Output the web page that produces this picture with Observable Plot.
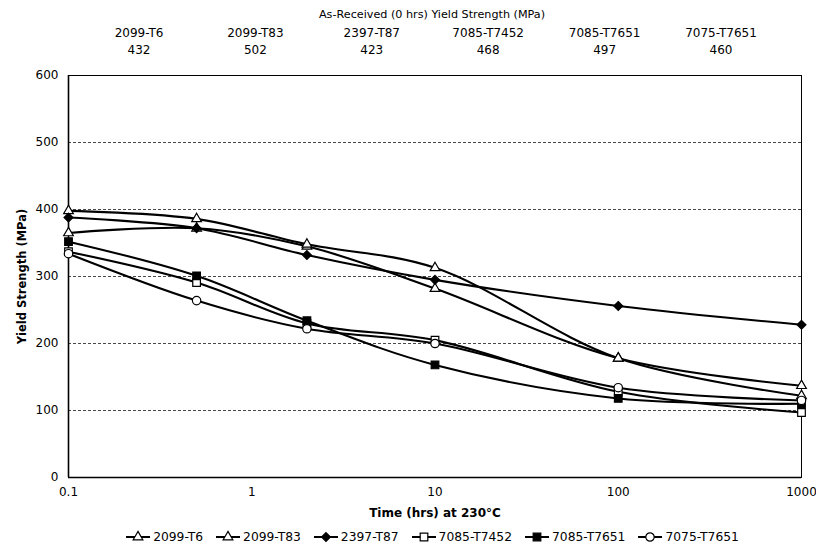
<!DOCTYPE html>
<html><head><meta charset="utf-8">
<script src="https://cdn.jsdelivr.net/npm/d3@7"></script>
<script src="https://cdn.jsdelivr.net/npm/@observablehq/plot@0.6"></script>
<style>
body{margin:0;background:#fff;font-family:"DejaVu Sans",Verdana,sans-serif;color:#000}
#wrap{width:816px;height:550px;position:relative;overflow:hidden;background:#fff}
#head{position:relative;height:62px}
.h{position:absolute;transform:translate(-50%,-50%);white-space:nowrap;font-size:12px;line-height:14px}
#legend{height:26px;display:flex;justify-content:center;align-items:center;font-size:12.3px;padding-left:48px}
.li{display:flex;align-items:center;margin:0 6px;white-space:nowrap}
.li svg{margin-right:2px}
</style></head>
<body><div id="wrap"><div id="head"></div><div id="chart"></div><div id="legend"></div></div>
<script>
// ---- data ----
const hours = [0.1, 0.5, 2, 10, 100, 1000];
const alloys = ["2099-T6", "2099-T83", "2397-T87", "7085-T7452", "7085-T7651", "7075-T7651"];
const asReceived = [432, 502, 423, 468, 497, 460];
const ys2099T6   = [365, 372, 345, 282, 178, 137];
const ys2099T83  = [398, 386, 348, 313, 178, 122];
const ys2397T87  = [388, 372, 332, 295, 256, 228];
const ys7085T7452 = [337, 291, 230, 205, 128, 97];
const ys7085T7651 = [352, 301, 234, 168, 118, 110];
const ys7075T7651 = [334, 264, 222, 200, 134, 115];
const xTicks = [0.1, 1, 10, 100, 1000];
const yTicks = [0, 100, 200, 300, 400, 500, 600];
const gridLevels = [100, 200, 300, 400, 500];
const headerTitle = "As-Received (0 hrs) Yield Strength (MPa)";
const xTitle = "Time (hrs) at 230°C";
const yTitle = "Yield Strength (MPa)";

const seriesValues = [ys2099T6, ys2099T83, ys2397T87, ys7085T7452, ys7085T7651, ys7075T7651];
const markerStyle = [
  {symbol: "triangle", fill: "#fff", r: 3.6},
  {symbol: "triangle", fill: "#fff", r: 3.6},
  {symbol: "diamond2", fill: "#000", r: 4},
  {symbol: "square", fill: "#fff", r: 4.3},
  {symbol: "square", fill: "#000", r: 4.3},
  {symbol: "circle", fill: "#fff", r: 4.2}
];

const rows = [];
alloys.forEach((a, i) => hours.forEach((h, j) => rows.push({alloy: a, h, v: seriesValues[i][j]})));

// ---- header ----
const head = document.getElementById("head");
function addH(txt, x, y, size) {
  const s = document.createElement("span");
  s.className = "h"; s.textContent = txt;
  s.style.left = x + "px"; s.style.top = y + "px";
  if (size) s.style.fontSize = size;
  head.appendChild(s);
}
addH(headerTitle, 432, 15, "11.2px");
alloys.forEach((a, i) => {
  const cx = 139 + i * 116.4;
  addH(a, cx, 33);
  addH(String(asReceived[i]), cx, 50);
});

// ---- chart ----
const marks = [
  Plot.ruleY(gridLevels, {stroke: "#333", strokeDasharray: "3,2", strokeWidth: 0.9}),
  Plot.frame({stroke: "#000", strokeWidth: 1}),
  Plot.ruleX([0.1], {stroke: "#000", strokeWidth: 1.6}),
  Plot.ruleY([0], {stroke: "#000", strokeWidth: 1.6}),
  Plot.line(rows, {x: "h", y: "v", z: "alloy", curve: "catmull-rom", stroke: "#000", strokeWidth: 2.1})
];
alloys.forEach((a, i) => {
  const m = markerStyle[i];
  marks.push(Plot.dot(rows.filter(d => d.alloy === a), {
    x: "h", y: "v", symbol: m.symbol, fill: m.fill, stroke: "#000", strokeWidth: 1.2, r: m.r
  }));
});
marks.push(
  Plot.axisX({ticks: xTicks, tickFormat: d => String(d), tickSize: 0, tickPadding: 10, label: null}),
  Plot.axisY({ticks: yTicks, tickSize: 0, tickPadding: 10, label: null}),
  Plot.text([yTitle], {text: d => d, frameAnchor: "left", rotate: -90, dx: -46, textAnchor: "middle", lineAnchor: "middle", fontWeight: "bold", fontSize: 11.5}),
  Plot.text([xTitle], {text: d => d, frameAnchor: "bottom", dy: 36, textAnchor: "middle", lineAnchor: "middle", fontWeight: "bold", fontSize: 12})
);

const chart = Plot.plot({
  width: 816, height: 462,
  marginTop: 13, marginBottom: 47, marginLeft: 68, marginRight: 15,
  style: {fontFamily: "'DejaVu Sans', Verdana, sans-serif", fontSize: "12px", color: "#000", background: "#fff"},
  x: {type: "log", domain: [0.1, 1000]},
  y: {domain: [0, 600]},
  marks
});
document.getElementById("chart").appendChild(chart);

// ---- legend ----
const legend = document.getElementById("legend");
alloys.forEach((a, i) => {
  const m = markerStyle[i];
  const item = document.createElement("span");
  item.className = "li";
  const ns = "http://www.w3.org/2000/svg";
  const svg = document.createElementNS(ns, "svg");
  svg.setAttribute("width", 26); svg.setAttribute("height", 14);
  const line = document.createElementNS(ns, "line");
  line.setAttribute("x1", 1); line.setAttribute("x2", 25); line.setAttribute("y1", 7); line.setAttribute("y2", 7);
  line.setAttribute("stroke", "#000"); line.setAttribute("stroke-width", 2);
  svg.appendChild(line);
  const symMap = {triangle: d3.symbolTriangle, diamond2: d3.symbolDiamond2, square: d3.symbolSquare, circle: d3.symbolCircle};
  const p = document.createElementNS(ns, "path");
  p.setAttribute("d", d3.symbol(symMap[m.symbol], Math.PI * m.r * m.r)());
  p.setAttribute("transform", "translate(13,7)");
  p.setAttribute("fill", m.fill); p.setAttribute("stroke", "#000"); p.setAttribute("stroke-width", 1.2);
  svg.appendChild(p);
  item.appendChild(svg);
  const t = document.createElement("span");
  t.textContent = a;
  item.appendChild(t);
  legend.appendChild(item);
});
</script>
</body></html>
